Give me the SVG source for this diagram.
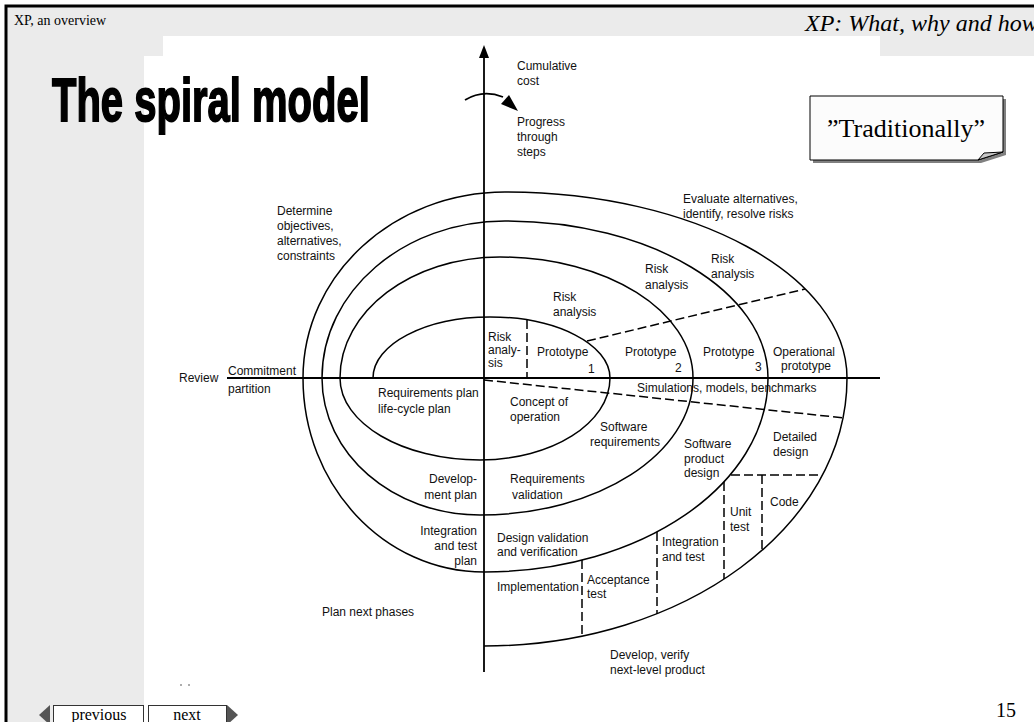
<svg xmlns="http://www.w3.org/2000/svg" width="1034" height="722" viewBox="0 0 1034 722">
<style>
.lbl{font-family:"Liberation Sans",Arial,sans-serif;font-size:12px;fill:#111}
.end{text-anchor:end}
.serif{font-family:"Liberation Serif","Times New Roman",serif;fill:#000}
.sp{fill:none;stroke:#000;stroke-width:1.5}
.dash{fill:none;stroke:#000;stroke-width:1.5;stroke-dasharray:9 4}
.ax{fill:none;stroke:#000;stroke-width:1.8}
</style>
<rect x="0" y="0" width="1034" height="722" fill="#fff"/>
<rect x="6" y="6" width="1040" height="730" fill="#ebebeb" stroke="#000" stroke-width="3"/>
<polygon points="163,36 880,36 880,56 1034,56 1034,722 144,722 144,56 163,56" fill="#fff"/>

<g id="header">
<text class="serif" x="14" y="25" font-size="14">XP, an overview</text>
<text class="serif" x="805" y="31" font-size="24" font-style="italic">XP: What, why and how?</text>
</g>

<g id="title">
<text transform="translate(52,121) scale(1,1.53)" font-family="Liberation Sans,Arial,sans-serif" font-weight="bold" font-size="40" fill="#000" stroke="#000" stroke-width="1.2">The spiral model</text>
</g>

<g id="callout">
<path d="M813,99 H1006 V155 L981,163 H813 Z" fill="#808080"/>
<path d="M810,96 H1003 V152 L978,160 H810 Z" fill="#fcfcfc" stroke="#000" stroke-width="1"/>
<polygon points="978,160 984,153 1003,152" fill="#c8c8c8" stroke="#000" stroke-width="1"/>
<text class="serif" x="906" y="137" font-size="26" text-anchor="middle">”Traditionally”</text>
</g>

<g id="connectors">
<line class="ax" x1="484" y1="56" x2="484" y2="672"/>
<polygon points="484,45 479,58 489,58" fill="#000"/>
<path d="M465,100 Q483,89 503,97" fill="none" stroke="#000" stroke-width="1.8"/>
<polygon points="518,111 501,104 509,95" fill="#000"/>
<line class="ax" x1="227" y1="378" x2="880" y2="378"/>
<path class="sp" d="M373,378 C373,344.3 425.4,317 490,317 C556.3,317 610,344.3 610,378 C610,423.3 551.8,460 480,460 C402.7,460 340,423.3 340,378 C340,311.2 411.6,257 500,257 C606.6,257 693,311.2 693,378 C693,453.7 597.6,515 480,515 C392.7,515 322,453.7 322,378 C322,291.3 403.9,221 505,221 C650.3,221 768,291.3 768,378 C768,485.1 640.9,572 484,572 C384,572 303,485.1 303,378 C303,275.3 393.4,192 505,192 C693.9,192 847,275.3 847,378 C847,526 684.5,646 484,646"/>
<line class="dash" x1="587" y1="341" x2="805" y2="289"/>
<line class="dash" x1="484" y1="380" x2="845" y2="418"/>
<line class="dash" x1="527" y1="320" x2="527" y2="378"/>
<line class="dash" x1="731" y1="475" x2="822" y2="475"/>
<line class="dash" x1="762" y1="475" x2="762" y2="551"/>
<line class="dash" x1="724" y1="482" x2="724" y2="579"/>
<line class="dash" x1="657" y1="532" x2="657" y2="614"/>
<line class="dash" x1="582" y1="560" x2="582" y2="636"/>
</g>

<g id="labels">
<text class="lbl" x="517" y="70">Cumulative</text>
<text class="lbl" x="517" y="85">cost</text>
<text class="lbl" x="517" y="126">Progress</text>
<text class="lbl" x="517" y="141">through</text>
<text class="lbl" x="517" y="156">steps</text>
<text class="lbl" x="277" y="215">Determine</text>
<text class="lbl" x="277" y="230">objectives,</text>
<text class="lbl" x="277" y="245">alternatives,</text>
<text class="lbl" x="277" y="260">constraints</text>
<text class="lbl" x="683" y="203">Evaluate alternatives,</text>
<text class="lbl" x="683" y="218">identify, resolve risks</text>
<text class="lbl" x="711" y="263">Risk</text>
<text class="lbl" x="711" y="278">analysis</text>
<text class="lbl" x="645" y="273">Risk</text>
<text class="lbl" x="645" y="289">analysis</text>
<text class="lbl" x="553" y="301">Risk</text>
<text class="lbl" x="553" y="316">analysis</text>
<text class="lbl" x="488" y="341">Risk</text>
<text class="lbl" x="488" y="354">analy-</text>
<text class="lbl" x="488" y="367">sis</text>
<text class="lbl" x="537" y="356">Prototype</text>
<text class="lbl" x="588" y="373">1</text>
<text class="lbl" x="625" y="356">Prototype</text>
<text class="lbl" x="675" y="372">2</text>
<text class="lbl" x="703" y="356">Prototype</text>
<text class="lbl" x="755" y="371">3</text>
<text class="lbl" x="773" y="356">Operational</text>
<text class="lbl" x="781" y="370">prototype</text>
<text class="lbl" x="637" y="392">Simulations, models, benchmarks</text>
<text class="lbl" x="179" y="382">Review</text>
<text class="lbl" x="228" y="375">Commitment</text>
<text class="lbl" x="228" y="393">partition</text>
<text class="lbl" x="378" y="397">Requirements plan</text>
<text class="lbl" x="378" y="413">life-cycle plan</text>
<text class="lbl" x="510" y="406">Concept of</text>
<text class="lbl" x="510" y="421">operation</text>
<text class="lbl" x="600" y="431">Software</text>
<text class="lbl" x="590" y="446">requirements</text>
<text class="lbl" x="684" y="448">Software</text>
<text class="lbl" x="684" y="463">product</text>
<text class="lbl" x="684" y="477">design</text>
<text class="lbl" x="773" y="441">Detailed</text>
<text class="lbl" x="773" y="456">design</text>
<text class="lbl end" x="477" y="483">Develop-</text>
<text class="lbl end" x="477" y="499">ment plan</text>
<text class="lbl" x="510" y="483">Requirements</text>
<text class="lbl" x="512" y="499">validation</text>
<text class="lbl end" x="477" y="535">Integration</text>
<text class="lbl end" x="477" y="550">and test</text>
<text class="lbl end" x="477" y="565">plan</text>
<text class="lbl" x="497" y="542">Design validation</text>
<text class="lbl" x="497" y="556">and verification</text>
<text class="lbl" x="770" y="506">Code</text>
<text class="lbl" x="730" y="516">Unit</text>
<text class="lbl" x="730" y="531">test</text>
<text class="lbl" x="662" y="546">Integration</text>
<text class="lbl" x="662" y="561">and test</text>
<text class="lbl" x="497" y="591">Implementation</text>
<text class="lbl" x="587" y="584">Acceptance</text>
<text class="lbl" x="587" y="598">test</text>
<text class="lbl" x="322" y="616">Plan next phases</text>
<text class="lbl" x="610" y="659">Develop, verify</text>
<text class="lbl" x="610" y="674">next-level product</text>
<circle cx="181" cy="685" r="0.8" fill="#444"/>
<circle cx="189" cy="685" r="0.8" fill="#444"/>
</g>

<g id="nav">
<polygon points="39,715 50,705 50,725" fill="#555"/>
<rect x="53.5" y="705.5" width="90" height="20" fill="#fff" stroke="#333" stroke-width="1"/>
<text class="serif" x="99" y="720" font-size="16" text-anchor="middle">previous</text>
<rect x="148.5" y="705.5" width="78" height="20" fill="#fff" stroke="#333" stroke-width="1"/>
<text class="serif" x="187" y="720" font-size="16" text-anchor="middle">next</text>
<polygon points="238,715 227,705 227,725" fill="#555"/>
</g>

<g id="page">
<text class="serif" x="996" y="717" font-size="20">15</text>
</g>
</svg>
